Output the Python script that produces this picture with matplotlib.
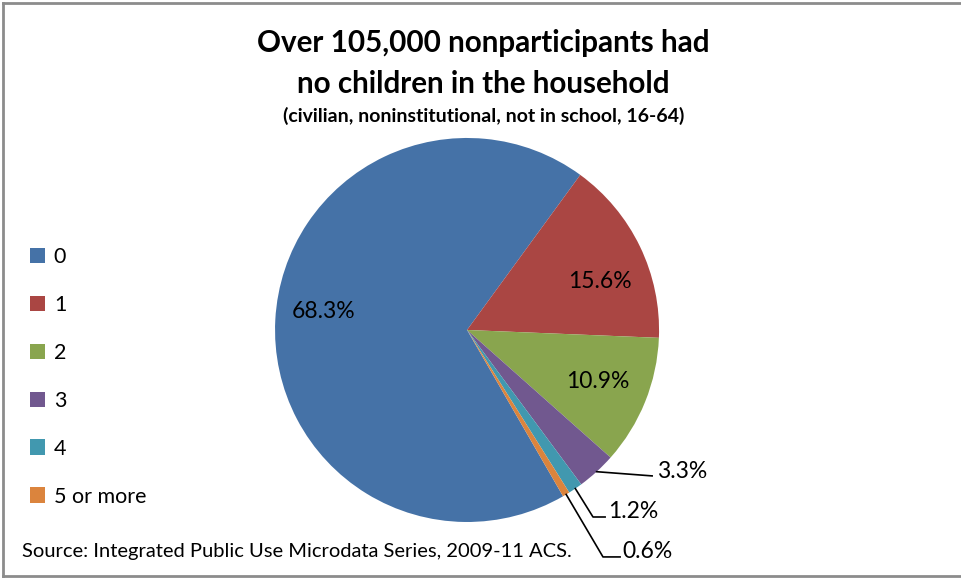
import numpy as np
import matplotlib
matplotlib.use('Agg')
import matplotlib.pyplot as plt

# === Données ===
categories = ['0', '1', '2', '3', '4', '5 or more']
shares = [68.3, 15.6, 10.9, 3.3, 1.2, 0.6]
colors = ['#4572A7', '#AA4643', '#89A54E', '#71588F', '#4198AF', '#DB843D']
pct_labels = [f'{v:.1f}%' for v in shares]

title = 'Over 105,000 nonparticipants had\nno children in the household'
subtitle = '(civilian, noninstitutional, not in school, 16-64)'
source = 'Source: Integrated Public Use Microdata Series, 2009-11 ACS.'

plt.rcParams['font.family'] = ['Lato', 'DejaVu Sans']

fig = plt.figure(figsize=(9.61, 5.78), dpi=100)
ax = fig.add_axes([0.2862, 0.0969, 0.3996, 0.6644])

wedges, _ = ax.pie(shares, colors=colors, startangle=-60, counterclock=False,
                   radius=1, wedgeprops=dict(linewidth=0))
ax.set_xlim(-1, 1)
ax.set_ylim(-1, 1)
ax.set_aspect('equal')
ax.axis('off')

# étiquettes internes (positions de mise en page)
inside_pos = [(-0.745, 0.094), (0.693, 0.255), (0.682, -0.266)]
for (x, y), lab in zip(inside_pos, pct_labels[:3]):
    ax.text(x, y, lab, ha='center', va='center', fontsize=16.5, color='black')

# étiquettes externes avec lignes de rappel
elbows = [[(0.964, -0.760)],
          [(0.656, -0.974), (0.719, -0.974)],
          [(0.708, -1.182), (0.797, -1.182)]]
text_pos = [(0.99, -0.735), (0.734, -0.945), (0.81, -1.152)]
for w, lab, el, tp in zip(wedges[3:], pct_labels[3:], elbows, text_pos):
    mid = np.deg2rad((w.theta1 + w.theta2) / 2)
    pts = [(np.cos(mid), np.sin(mid))] + el
    xs, ys = zip(*pts)
    ax.plot(xs, ys, color='black', lw=1.2, clip_on=False)
    ax.text(tp[0], tp[1], lab, ha='left', va='center', fontsize=16.5, color='black')

# légende
fig.legend(wedges, categories, loc='upper left', bbox_to_anchor=(0.022, 0.588),
           frameon=False, fontsize=15.5, handlelength=0.72, handleheight=0.72,
           handletextpad=0.4, labelspacing=1.30, borderaxespad=0)

# titres
fig.text(0.503, 0.890, title, ha='center', va='center', fontsize=21.3,
         fontweight='bold', linespacing=1.55)
fig.text(0.503, 0.799, subtitle, ha='center', va='center', fontsize=14,
         fontweight='bold')
fig.text(0.023, 0.046, source, ha='left', va='center', fontsize=14.5)

# bordure du graphique
for xs, ys in [([0.003, 0.003], [0.003, 0.995]),
               ([0.003, 1.0], [0.995, 0.995]),
               ([0.003, 1.0], [0.003, 0.003])]:
    fig.add_artist(plt.Line2D(xs, ys, color='#8c8c8c', lw=2, transform=fig.transFigure))

fig.savefig('out.png', dpi=100)
